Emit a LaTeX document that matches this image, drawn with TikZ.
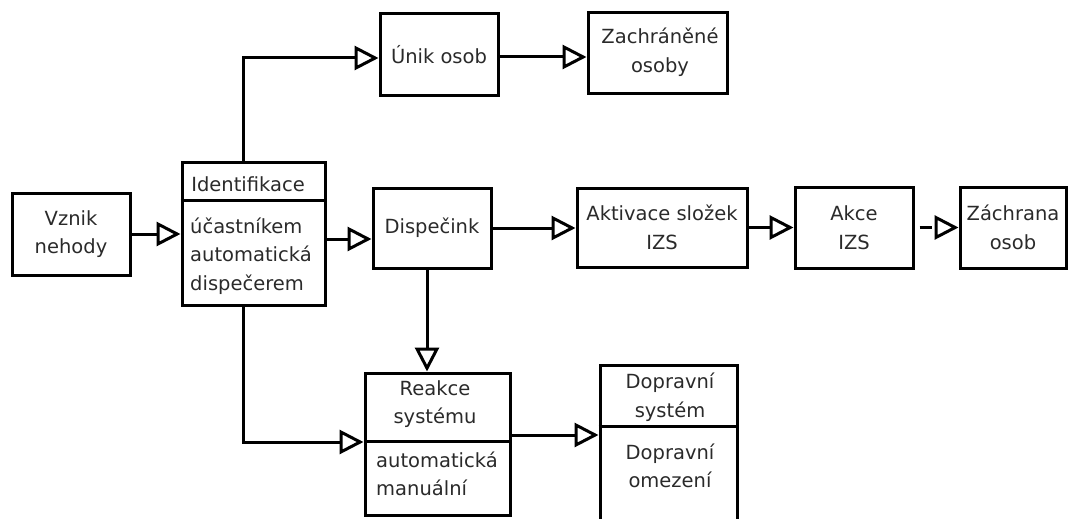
\documentclass[tikz,border=0pt]{standalone}
\usepackage{fontspec}
\setmainfont{DejaVu Sans}
\usetikzlibrary{arrows.meta}
\definecolor{txtc}{HTML}{2A2A2A}
\begin{document}
\begin{tikzpicture}[x=1pt,y=-1pt,
  box/.style={draw=black, line width=3pt, rectangle, inner sep=0pt, text=txtc, align=center, font=\fontsize{19.5}{28.5}\selectfont},
  txt/.style={inner sep=0pt, text=txtc, font=\fontsize{19.5}{28.5}\selectfont},
  arr/.style={line width=3pt, -{Triangle[open, length=24pt, width=24pt, line width=3pt]}},
  divider/.style={line width=3pt}]
\useasboundingbox (0,0) rectangle (1076,519);
% boxes
\node[box, minimum width=118pt, minimum height=82pt] (vznik) at (71,234) {Vznik\\nehody};
\node[box, minimum width=143pt, minimum height=143pt] (ident) at (253.5,233.5) {};
\node[txt] (identT) at (248,184) {Identifikace};
\node[txt, align=left, anchor=west] (identB) at (190,256) {účastníkem\\automatická\\dispečerem};
\draw[divider] ([yshift=-40pt]ident.north west) -- ([yshift=-40pt]ident.north east);
\node[box, minimum width=118pt, minimum height=80pt] (disp) at (432,228) {Dispečink};
\node[box, minimum width=170pt, minimum height=79pt] (aktiv) at (662,227.5) {Aktivace složek\\IZS};
\node[box, minimum width=118pt, minimum height=81pt] (akce) at (854,227.5) {Akce\\IZS};
\node[box, minimum width=106pt, minimum height=81pt] (zachrana) at (1013,227.5) {Záchrana\\osob};
\node[box, minimum width=118pt, minimum height=81pt] (unik) at (439,54.5) {Únik osob};
\node[box, minimum width=139pt, minimum height=80pt] (zachranene) at (657.5,53) {};
\node[txt, align=center] (zachraneneT) at (660,52) {Zachráněné\\osoby};
\node[box, minimum width=145pt, minimum height=142pt] (reakce) at (437.5,444) {};
\node[txt, align=center] (reakceT) at (435,404) {Reakce\\systému};
\node[txt, align=left, anchor=west] (reakceB) at (376,474) {automatická\\manuální};
\draw[divider] ([yshift=-70pt]reakce.north west) -- ([yshift=-70pt]reakce.north east);
\node[box, minimum width=137pt, minimum height=165pt] (doprav) at (668.5,447.5) {};
\node[txt, align=center] (dopravT) at (670,397) {Dopravní\\systém};
\node[txt, align=center] (dopravB) at (670,466) {Dopravní\\omezení};
\draw[divider] ([yshift=-63pt]doprav.north west) -- ([yshift=-63pt]doprav.north east);
% connectors
\draw[arr] (vznik.east) -- (vznik.east -| ident.west);
\draw[arr] ([yshift=-5.5pt]ident.east) -- ([yshift=-5.5pt]ident.east -| disp.west);
\draw[arr] (disp.east) -- (disp.east -| aktiv.west);
\draw[arr] (aktiv.east) -- (aktiv.east -| akce.west);
\draw[arr, shorten <=5pt, dash pattern=on 12pt off 30pt] (akce.east) -- (akce.east -| zachrana.west);
\draw[arr] ([xshift=-10pt]ident.north) |- ([yshift=-3.5pt]unik.west);
\draw[arr] ([yshift=-2.5pt]unik.east) -- ([yshift=-2.5pt]unik.east -| zachranene.west);
\draw[arr] ([xshift=-10pt]ident.south) |- ([yshift=2pt]reakce.west);
\draw[arr] ([xshift=-5pt]disp.south) -- ([xshift=-5pt]disp.south |- reakce.north);
\draw[arr] ([yshift=9pt]reakce.east) -- ([yshift=9pt]reakce.east -| doprav.west);
\end{tikzpicture}
\end{document}
